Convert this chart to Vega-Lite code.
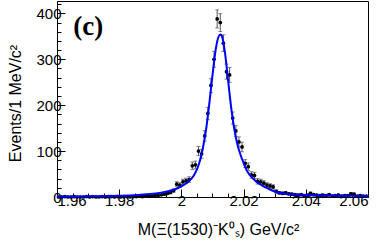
{
  "$schema": "https://vega.github.io/schema/vega-lite/v6.json",
  "width": 311,
  "height": 196,
  "autosize": "none",
  "padding": {"left": 57, "top": 1, "right": 13, "bottom": 45},
  "background": "white",
  "config": {
    "view": {"stroke": "black", "strokeWidth": 1},
    "font": "Liberation Sans",
    "axis": {"grid": false, "domainColor": "black", "tickColor": "black", "labelColor": "black", "titleColor": "black", "labelFont": "Liberation Sans", "titleFont": "Liberation Sans"}
  },
  "datasets": {
    "pts": [
      {"m":1.9605,"n":0,"lo":0,"hi":0},{"m":1.9615,"n":0,"lo":0,"hi":0},{"m":1.9625,"n":1,"lo":0,"hi":2},{"m":1.9635,"n":0,"lo":0,"hi":0},{"m":1.9645,"n":0,"lo":0,"hi":0},
      {"m":1.9655,"n":1,"lo":0,"hi":2},{"m":1.9665,"n":0,"lo":0,"hi":0},{"m":1.9675,"n":0,"lo":0,"hi":0},{"m":1.9685,"n":0,"lo":0,"hi":0},{"m":1.9695,"n":1,"lo":0,"hi":2},
      {"m":1.9705,"n":0,"lo":0,"hi":0},{"m":1.9715,"n":1,"lo":0,"hi":2},{"m":1.9725,"n":0,"lo":0,"hi":0},{"m":1.9735,"n":0,"lo":0,"hi":0},{"m":1.9745,"n":1,"lo":0,"hi":2},
      {"m":1.9755,"n":0,"lo":0,"hi":0},{"m":1.9765,"n":1,"lo":0,"hi":2},{"m":1.9775,"n":1,"lo":0,"hi":2},{"m":1.9785,"n":0,"lo":0,"hi":0},{"m":1.9795,"n":1,"lo":0,"hi":2},
      {"m":1.9805,"n":0,"lo":0,"hi":0},{"m":1.9815,"n":1,"lo":0,"hi":2},{"m":1.9825,"n":1,"lo":0,"hi":2},{"m":1.9835,"n":0,"lo":0,"hi":0},{"m":1.9845,"n":1,"lo":0,"hi":2},
      {"m":1.9855,"n":1,"lo":0,"hi":2},{"m":1.9865,"n":2,"lo":0.59,"hi":3.41},{"m":1.9875,"n":1,"lo":0,"hi":2},{"m":1.9885,"n":2,"lo":0.59,"hi":3.41},{"m":1.9895,"n":2,"lo":0.59,"hi":3.41},
      {"m":1.9905,"n":2,"lo":0.59,"hi":3.41},{"m":1.9915,"n":3,"lo":1.27,"hi":4.73},{"m":1.9925,"n":3,"lo":1.27,"hi":4.73},{"m":1.9935,"n":5,"lo":2.76,"hi":7.24},{"m":1.9945,"n":6,"lo":3.55,"hi":8.45},
      {"m":1.9955,"n":8,"lo":5.17,"hi":10.83},{"m":1.9965,"n":10,"lo":6.84,"hi":13.16},{"m":1.9975,"n":14,"lo":10.26,"hi":17.74},{"m":1.9985,"n":28,"lo":22.71,"hi":33.29},{"m":1.9995,"n":26,"lo":20.9,"hi":31.1},
      {"m":2.0005,"n":33,"lo":27.26,"hi":38.74},{"m":2.0015,"n":35,"lo":29.08,"hi":40.92},{"m":2.0025,"n":38,"lo":31.84,"hi":44.16},{"m":2.0035,"n":68,"lo":59.75,"hi":76.25},{"m":2.0045,"n":70,"lo":61.63,"hi":78.37},
      {"m":2.0055,"n":100,"lo":90,"hi":110},{"m":2.0065,"n":94,"lo":84.3,"hi":103.7},{"m":2.0075,"n":133,"lo":121.47,"hi":144.53},{"m":2.0085,"n":182,"lo":168.51,"hi":195.49},{"m":2.0095,"n":243,"lo":227.41,"hi":258.59},
      {"m":2.0105,"n":300,"lo":282.68,"hi":317.32},{"m":2.0115,"n":388,"lo":368.3,"hi":407.7},{"m":2.0125,"n":380,"lo":360.51,"hi":399.49},{"m":2.0135,"n":335,"lo":316.7,"hi":353.3},{"m":2.0145,"n":273,"lo":256.48,"hi":289.52},
      {"m":2.0155,"n":266,"lo":249.69,"hi":282.31},{"m":2.0165,"n":172,"lo":158.89,"hi":185.11},{"m":2.0175,"n":144,"lo":132,"hi":156},{"m":2.0185,"n":120,"lo":109.05,"hi":130.95},{"m":2.0195,"n":109,"lo":98.56,"hi":119.44},
      {"m":2.0205,"n":73,"lo":64.46,"hi":81.54},{"m":2.0215,"n":66,"lo":57.88,"hi":74.12},{"m":2.0225,"n":48,"lo":41.07,"hi":54.93},{"m":2.0235,"n":47,"lo":40.14,"hi":53.86},{"m":2.0245,"n":34,"lo":28.17,"hi":39.83},
      {"m":2.0255,"n":33,"lo":27.26,"hi":38.74},{"m":2.0265,"n":30,"lo":24.52,"hi":35.48},{"m":2.0275,"n":26,"lo":20.9,"hi":31.1},{"m":2.0285,"n":24,"lo":19.1,"hi":28.9},{"m":2.0295,"n":22,"lo":17.31,"hi":26.69},
      {"m":2.0305,"n":12,"lo":8.54,"hi":15.46},{"m":2.0315,"n":9,"lo":6,"hi":12},{"m":2.0325,"n":8,"lo":5.17,"hi":10.83},{"m":2.0335,"n":9,"lo":6,"hi":12},{"m":2.0345,"n":7,"lo":4.35,"hi":9.65},
      {"m":2.0355,"n":6,"lo":3.55,"hi":8.45},{"m":2.0365,"n":5,"lo":2.76,"hi":7.24},{"m":2.0375,"n":4,"lo":2,"hi":6},{"m":2.0385,"n":5,"lo":2.76,"hi":7.24},{"m":2.0395,"n":3,"lo":1.27,"hi":4.73},
      {"m":2.0405,"n":4,"lo":2,"hi":6},{"m":2.0415,"n":8,"lo":5.17,"hi":10.83},{"m":2.0425,"n":5,"lo":2.76,"hi":7.24},{"m":2.0435,"n":4,"lo":2,"hi":6},{"m":2.0445,"n":3,"lo":1.27,"hi":4.73},
      {"m":2.0455,"n":4,"lo":2,"hi":6},{"m":2.0465,"n":3,"lo":1.27,"hi":4.73},{"m":2.0475,"n":5,"lo":2.76,"hi":7.24},{"m":2.0485,"n":2,"lo":0.59,"hi":3.41},{"m":2.0495,"n":3,"lo":1.27,"hi":4.73},
      {"m":2.0505,"n":4,"lo":2,"hi":6},{"m":2.0515,"n":2,"lo":0.59,"hi":3.41},{"m":2.0525,"n":3,"lo":1.27,"hi":4.73},{"m":2.0535,"n":3,"lo":1.27,"hi":4.73},{"m":2.0545,"n":7,"lo":4.35,"hi":9.65},
      {"m":2.0555,"n":6,"lo":3.55,"hi":8.45},{"m":2.0565,"n":2,"lo":0.59,"hi":3.41},{"m":2.0575,"n":3,"lo":1.27,"hi":4.73},{"m":2.0585,"n":2,"lo":0.59,"hi":3.41},{"m":2.0595,"n":2,"lo":0.59,"hi":3.41}
    ],
    "fit": [
      {"m":1.96,"f":1.0},{"m":1.965,"f":1.2},{"m":1.97,"f":1.5},{"m":1.975,"f":2.0},{"m":1.98,"f":2.8},{"m":1.985,"f":4.0},
      {"m":1.99,"f":6.5},{"m":1.993,"f":9},{"m":1.996,"f":13},{"m":1.998,"f":17},{"m":2.0,"f":23},{"m":2.002,"f":32},
      {"m":2.004,"f":47},{"m":2.005,"f":60},{"m":2.006,"f":80},{"m":2.007,"f":110},{"m":2.008,"f":150},{"m":2.009,"f":205},
      {"m":2.01,"f":265},{"m":2.011,"f":320},{"m":2.012,"f":350},{"m":2.0126,"f":354},{"m":2.013,"f":351},{"m":2.014,"f":315},
      {"m":2.015,"f":255},{"m":2.016,"f":195},{"m":2.017,"f":148},{"m":2.018,"f":115},{"m":2.019,"f":92},{"m":2.02,"f":74},
      {"m":2.021,"f":58},{"m":2.022,"f":48},{"m":2.024,"f":34},{"m":2.026,"f":25},{"m":2.028,"f":18},{"m":2.03,"f":12},
      {"m":2.032,"f":8},{"m":2.035,"f":6},{"m":2.04,"f":4.5},{"m":2.045,"f":3.5},{"m":2.05,"f":3},{"m":2.055,"f":2.5},{"m":2.06,"f":2}
    ]
  },
  "layer": [
    {
      "data": {"name": "pts"},
      "mark": {"type": "rule", "color": "#555", "strokeWidth": 1},
      "encoding": {
        "x": {"field": "m", "type": "quantitative", "scale": {"domain": [1.96, 2.06], "nice": false, "zero": false},
              "axis": {"orient": "bottom", "values": [1.965,1.97,1.975,1.985,1.99,1.995,2.005,2.01,2.015,2.025,2.03,2.035,2.045,2.05,2.055], "labels": false, "tickSize": -4, "domain": false, "title": null}},
        "y": {"field": "lo", "type": "quantitative", "scale": {"domain": [0, 427], "nice": false},
              "axis": {"orient": "left", "values": [20,40,60,80,120,140,160,180,220,240,260,280,320,340,360,380,420], "labels": false, "tickSize": -4, "domain": false, "title": null}},
        "y2": {"field": "hi"}
      }
    },
    {
      "data": {"name": "pts"},
      "mark": {"type": "tick", "orient": "horizontal", "color": "#555", "size": 4, "thickness": 1},
      "encoding": {
        "x": {"field": "m", "type": "quantitative", "axis": null},
        "y": {"field": "hi", "type": "quantitative", "axis": null}
      }
    },
    {
      "data": {"name": "pts"},
      "mark": {"type": "tick", "orient": "horizontal", "color": "#555", "size": 4, "thickness": 1},
      "encoding": {
        "x": {"field": "m", "type": "quantitative", "axis": null},
        "y": {"field": "lo", "type": "quantitative", "axis": null}
      }
    },
    {
      "data": {"name": "pts"},
      "mark": {"type": "circle", "color": "black", "size": 14, "opacity": 1},
      "encoding": {
        "x": {"field": "m", "type": "quantitative",
              "axis": {"orient": "bottom", "values": [1.96,1.98,2.0,2.02,2.04,2.06], "format": "~g", "tickSize": -8, "labelPadding": 4, "labelFontSize": 15,
                       "title": "M(Ξ(1530)⁻K⁰ₛ) GeV/c²", "titleFontSize": 16, "titleFontWeight": "normal", "titleX": 161, "titleY": 37, "titleBaseline": "alphabetic"}},
        "y": {"field": "n", "type": "quantitative",
              "axis": {"orient": "left", "values": [0,100,200,300,400], "tickSize": -8, "labelPadding": 4, "labelFontSize": 15,
                       "title": "Events/1 MeV/c²", "titleFontSize": 16, "titleFontWeight": "normal", "titleX": -37, "titleY": 102, "titleAngle": -90, "titleAlign": "center", "titleBaseline": "alphabetic"}}
      }
    },
    {
      "data": {"name": "fit"},
      "mark": {"type": "line", "color": "#0000ff", "strokeWidth": 2, "interpolate": "monotone"},
      "encoding": {
        "x": {"field": "m", "type": "quantitative", "axis": null},
        "y": {"field": "f", "type": "quantitative", "axis": null}
      }
    },
    {
      "data": {"values": [{"label": "(c)"}]},
      "mark": {"type": "text", "font": "Liberation Serif", "fontWeight": "bold", "fontSize": 27, "align": "left", "baseline": "alphabetic", "color": "black"},
      "encoding": {
        "text": {"field": "label"},
        "x": {"datum": 1.9652, "type": "quantitative", "axis": null},
        "y": {"datum": 353, "type": "quantitative", "axis": null}
      }
    }
  ],
  "resolve": {"axis": {"x": "independent", "y": "independent"}}
}
